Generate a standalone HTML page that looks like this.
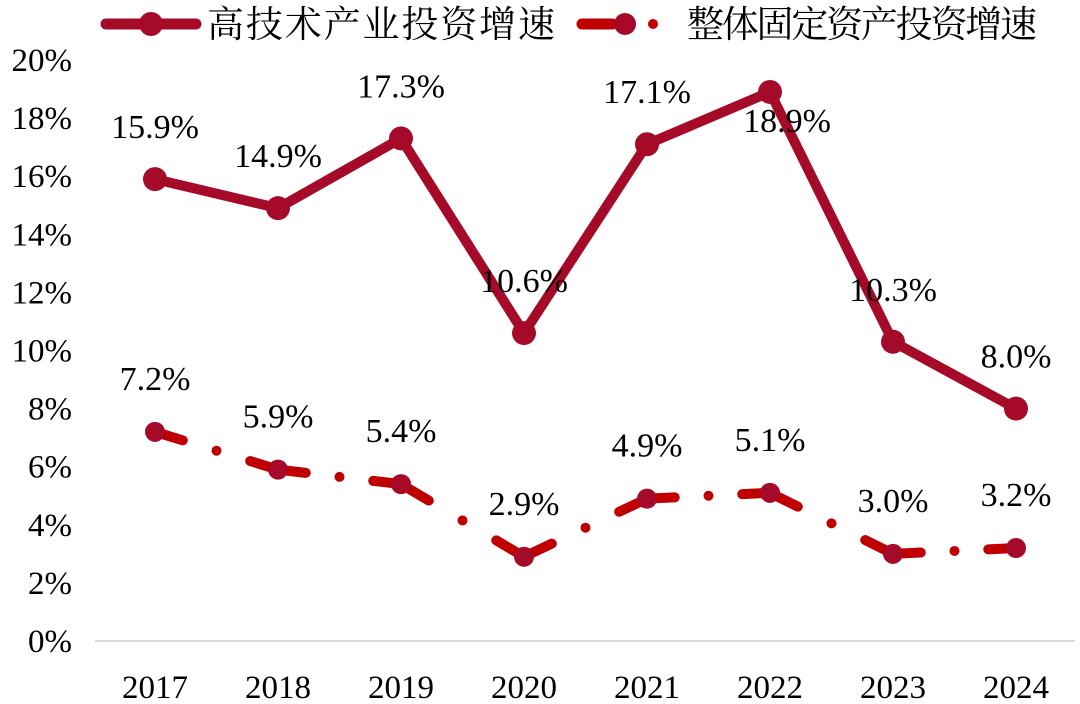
<!DOCTYPE html>
<html><head><meta charset="utf-8"><style>
body{margin:0;background:#fff}
svg{display:block;font-family:"Liberation Serif","Noto Serif CJK SC",serif}
</style></head><body>
<svg id="c" width="1080" height="704">
<g id="legend">
<g>
<line x1="106" y1="24" x2="196" y2="24" stroke="#a50a28" stroke-width="11" stroke-linecap="round"/>
<circle cx="151" cy="24" r="12" fill="#a50a28"/>
<text x="207" y="37" font-size="37" textLength="348" font-family="Noto Serif CJK SC,serif">高技术产业投资增速</text>
</g>
<g>
<line x1="582" y1="24" x2="612" y2="24" stroke="#c00000" stroke-width="11" stroke-linecap="round"/>
<circle cx="625" cy="24" r="11" fill="#a50a28"/>
<circle cx="653" cy="24" r="5" fill="#c00000"/>
<text x="687" y="37" font-size="37" textLength="350" font-family="Noto Serif CJK SC,serif">整体固定资产投资增速</text>
</g>
</g>
<g id="axes"></g>
<g id="plot"></g>
</svg>
<script>
const categories=["2017","2018","2019","2020","2021","2022","2023","2024"];
const hightech=[15.9,14.9,17.3,10.6,17.1,18.9,10.3,8.0];
const total=[7.2,5.9,5.4,2.9,4.9,5.1,3.0,3.2];
const yTicks=[0,2,4,6,8,10,12,14,16,18,20];
const NS="http://www.w3.org/2000/svg";
const x=i=>155+i*123;
const y=v=>641-v*29.05;
function mk(t,a,p){const e=document.createElementNS(NS,t);for(const k in a)e.setAttribute(k,a[k]);p.appendChild(e);return e;}
const axes=document.getElementById('axes'),plot=document.getElementById('plot');
const base=mk('line',{x1:95,x2:1075,y1:y(0),y2:y(0),stroke:'#d9d9d9','stroke-width':2},axes);


yTicks.forEach(t=>{const e=mk('text',{x:72,y:y(t)+11,'font-size':33,'text-anchor':'end'},axes);e.textContent=t+'%';

});
categories.forEach((c,i)=>{const e=mk('text',{x:x(i),y:698,'font-size':33,'text-anchor':'middle'},axes);e.textContent=c;

});
for(let i=0;i<total.length-1;i++){const l=mk('line',{x1:x(i),y1:y(total[i]),x2:x(i+1),y2:y(total[i+1]),stroke:'#c00000','stroke-width':10,'stroke-linecap':'round',pathLength:124,'stroke-dasharray':'28 34 0 34 28'},plot);

}
total.forEach((v,i)=>{const c=mk('circle',{cx:x(i),cy:y(v),r:10,fill:'#a50a28'},plot);


const t=mk('text',{x:x(i),y:y(v)-42,'font-size':34,'text-anchor':'middle'},plot);t.textContent=v.toFixed(1)+'%';

});
const pl=mk('polyline',{points:hightech.map((v,i)=>x(i)+','+y(v)).join(' '),fill:'none',stroke:'#a50a28','stroke-width':10,'stroke-linejoin':'round'},plot);


hightech.forEach((v,i)=>{const c=mk('circle',{cx:x(i),cy:y(v),r:12,fill:'#a50a28'},plot);


const below=(i===5);
const t=mk('text',{x:x(i)+(below?17:0),y:below?y(v)+40:y(v)-41,'font-size':34,'text-anchor':'middle'},plot);t.textContent=v.toFixed(1)+'%';

});
</script>
</body></html>
